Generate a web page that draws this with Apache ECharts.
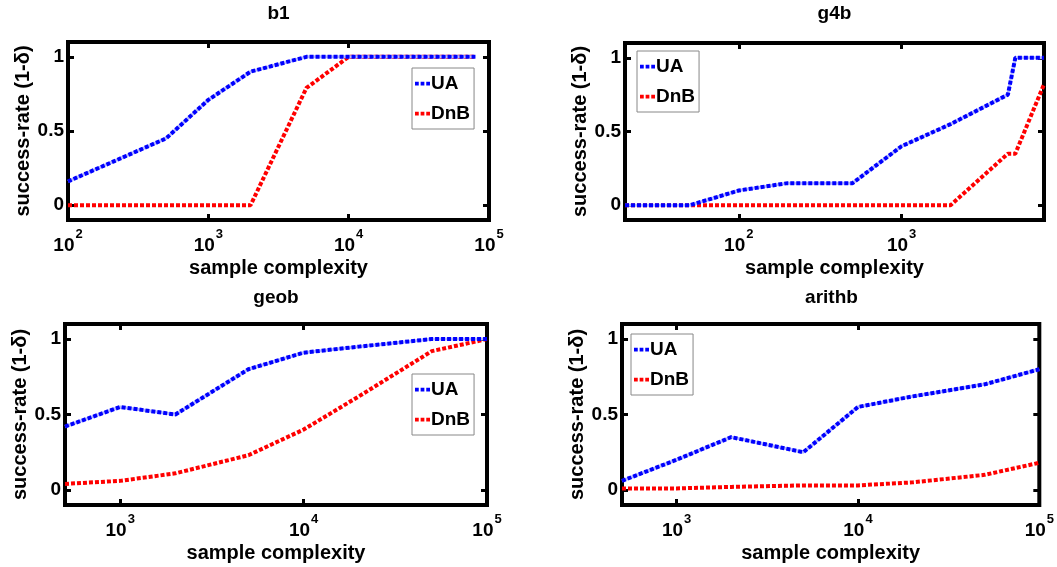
<!DOCTYPE html>
<html><head><meta charset="utf-8">
<script src="https://cdn.jsdelivr.net/npm/echarts@6/dist/echarts.min.js"></script>
<style>html,body{margin:0;padding:0;background:#fff}#c{width:1057px;height:567px}</style>
</head><body><div id="c"></div>
<script>
// ---- data ----
const panelTitles = ['b1', 'g4b', 'geob', 'arithb'];
const seriesNames = ['UA', 'DnB'];

const b1X   = [100, 500, 1000, 2000, 5000, 10000, 20000, 50000, 80000];
const b1UA  = [0.16, 0.45, 0.71, 0.90, 1, 1, 1, 1, 1];
const b1DnB = [0, 0, 0, 0, 0.79, 1, 1, 1, 1];

const g4bX   = [20, 50, 100, 200, 500, 1000, 2000, 4500, 5000, 7500];
const g4bUA  = [0, 0, 0.10, 0.15, 0.15, 0.40, 0.55, 0.75, 1, 1];
const g4bDnB = [0, 0, 0, 0, 0, 0, 0, 0.35, 0.35, 0.82];

const geobX   = [500, 1000, 2000, 5000, 10000, 20000, 50000, 100000];
const geobUA  = [0.42, 0.55, 0.50, 0.80, 0.91, 0.95, 1, 1];
const geobDnB = [0.04, 0.06, 0.11, 0.23, 0.40, 0.62, 0.92, 1];

const arithbX   = [500, 1000, 2000, 5000, 10000, 20000, 50000, 100000];
const arithbUA  = [0.06, 0.20, 0.35, 0.25, 0.55, 0.62, 0.70, 0.80];
const arithbDnB = [0.01, 0.01, 0.02, 0.03, 0.03, 0.05, 0.10, 0.18];

const xMins = [100, 20, 500, 500];
const xMaxs = [100000, 7500, 100000, 100000];
const yTickValues = [0, 0.5, 1];
const xAxisTitle = 'sample complexity';
const yAxisTitle = 'success-rate (1-δ)';

// ---- layout ----
const panels = [
  {x: b1X, ua: b1UA, dnb: b1DnB},
  {x: g4bX, ua: g4bUA, dnb: g4bDnB},
  {x: geobX, ua: geobUA, dnb: geobDnB},
  {x: arithbX, ua: arithbUA, dnb: arithbDnB}
];
const boxes = [
  {left: 68,  top: 42,  width: 421, height: 178, lx: 412, ly: 68,  ty: 4},
  {left: 625, top: 43,  width: 419, height: 177, lx: 637, ly: 51,  ty: 4},
  {left: 65,  top: 324, width: 422, height: 181, lx: 412, ly: 374, ty: 288},
  {left: 622, top: 324, width: 419, height: 181, lx: 631, ly: 334, ty: 288}
];
const FONT = '"Liberation Sans", Arial, Helvetica, sans-serif';
const ICON = 'path://M0,0h4v4h-4zM6,0h4v4h-4zM12,0h4v4h-4z';

function powLabel(v) {
  const e = Math.log10(v);
  const r = Math.round(e);
  if (Math.abs(e - r) > 1e-6) return '';
  return '{b|10}{s|' + r + '}';
}

const grid = [], xAxis = [], yAxis = [], series = [], legend = [], title = [];
boxes.forEach((b, i) => {
  grid.push({left: b.left, top: b.top, width: b.width, height: b.height,
    show: true, borderWidth: 4, borderColor: '#000', backgroundColor: '#fff', containLabel: false});
  title.push({text: panelTitles[i], left: b.left + b.width / 2, top: b.ty, textAlign: 'center', padding: 0,
    textStyle: {fontFamily: FONT, fontSize: 19, fontWeight: 'bold', color: '#000'}});
  const tick = {show: true, inside: true, length: 6, lineStyle: {color: '#000', width: 3}};
  const noLine = {show: false, onZero: false};
  // bottom x
  xAxis.push({type: 'log', logBase: 10, gridIndex: i, position: 'bottom', min: xMins[i], max: xMaxs[i],
    axisLine: noLine, splitLine: {show: false}, axisTick: tick,
    axisLabel: {show: true, margin: 8, formatter: powLabel, showMinLabel: true, showMaxLabel: true,
      rich: {
        b: {fontFamily: FONT, fontSize: 19, fontWeight: 'bold', color: '#000', lineHeight: 27, verticalAlign: 'bottom'},
        s: {fontFamily: FONT, fontSize: 13, fontWeight: 'bold', color: '#000', lineHeight: 27, verticalAlign: 'top', padding: [0, 0, 0, 1]}
      }},
    name: xAxisTitle, nameLocation: 'middle', nameGap: 38,
    nameTextStyle: {fontFamily: FONT, fontSize: 20, fontWeight: 'bold', color: '#000'}});
  // top x (mirror ticks)
  xAxis.push({type: 'log', logBase: 10, gridIndex: i, position: 'top', min: xMins[i], max: xMaxs[i],
    axisLine: noLine, splitLine: {show: false}, axisTick: tick, axisLabel: {show: false}});
  // left y
  yAxis.push({type: 'value', gridIndex: i, position: 'left', min: -0.1, max: 1.1,
    axisLine: noLine, splitLine: {show: false},
    axisTick: Object.assign({customValues: yTickValues}, tick),
    axisLabel: {customValues: yTickValues, margin: 4, fontFamily: FONT, fontSize: 19, fontWeight: 'bold', color: '#000',
      formatter: v => String(v)},
    name: yAxisTitle, nameLocation: 'middle', nameGap: 32,
    nameTextStyle: {fontFamily: FONT, fontSize: 20, fontWeight: 'bold', color: '#000'}});
  // right y (mirror ticks)
  yAxis.push({type: 'value', gridIndex: i, position: 'right', min: -0.1, max: 1.1,
    axisLine: noLine, splitLine: {show: false},
    axisTick: Object.assign({customValues: yTickValues}, tick),
    axisLabel: {show: false, customValues: yTickValues}});
  const p = panels[i];
  const uaData = p.x.map((x, k) => [x, p.ua[k]]);
  // light-blue core of the dash-dot line (same UA data)
  series.push({name: 'UA core', type: 'line', xAxisIndex: 2 * i, yAxisIndex: 2 * i, silent: true,
    data: uaData, symbol: 'none', showSymbol: false, z: 3,
    lineStyle: {color: '#b4b8ff', width: 3, type: 'solid'}});
  series.push({name: seriesNames[0], type: 'line', xAxisIndex: 2 * i, yAxisIndex: 2 * i,
    data: uaData, symbol: 'none', showSymbol: false, z: 4,
    lineStyle: {color: '#0000ff', width: 4, type: [4, 2]}, itemStyle: {color: '#0000ff'}});
  series.push({name: seriesNames[1], type: 'line', xAxisIndex: 2 * i, yAxisIndex: 2 * i,
    data: p.x.map((x, k) => [x, p.dnb[k]]), symbol: 'none', showSymbol: false, z: 2,
    lineStyle: {color: '#ff0000', width: 4, type: [4, 2]}, itemStyle: {color: '#ff0000'}});
  legend.push({data: [
      {name: seriesNames[0], icon: ICON, itemStyle: {color: '#0000ff'}},
      {name: seriesNames[1], icon: ICON, itemStyle: {color: '#ff0000'}}],
    orient: 'vertical', left: b.lx, top: b.ly,
    backgroundColor: '#fff', borderColor: '#888', borderWidth: 1, borderRadius: 0,
    padding: [6, 4, 6, 3], itemGap: 11, itemWidth: 15, itemHeight: 4, selectedMode: false,
    textStyle: {fontFamily: FONT, fontSize: 19, fontWeight: 'bold', color: '#000', padding: [0, 0, 0, -4]}});
});

const chart = echarts.init(document.getElementById('c'), null, {renderer: 'canvas'});
chart.setOption({animation: false, backgroundColor: '#fff', title, grid, xAxis, yAxis, series, legend});
</script>
</body></html>
